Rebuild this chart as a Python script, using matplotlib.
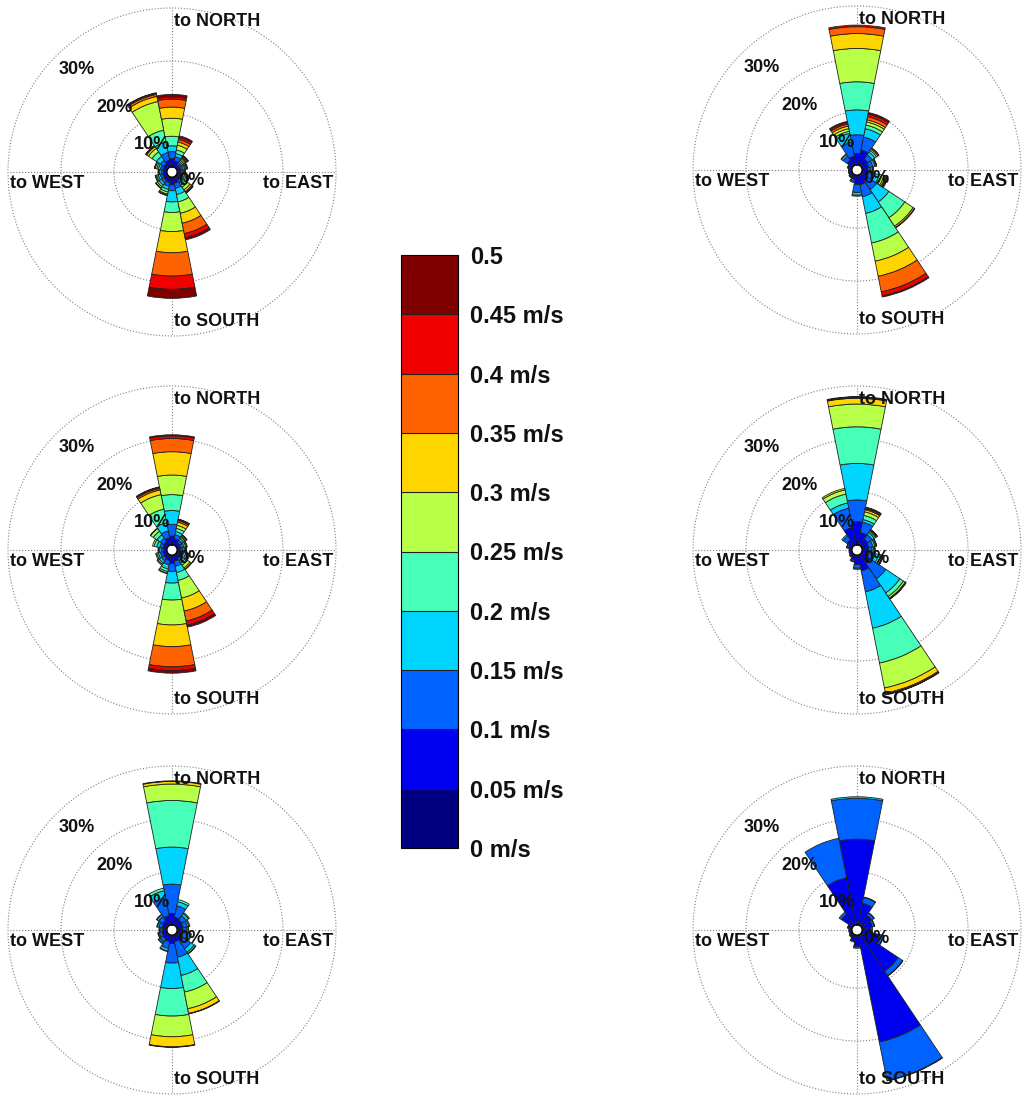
import numpy as np
import matplotlib
matplotlib.use('Agg')
import matplotlib.pyplot as plt
from matplotlib.colors import ListedColormap, BoundaryNorm
from matplotlib import cm

plt.rcParams['font.family'] = ['Liberation Sans', 'DejaVu Sans']

# 16 sector centres (deg, clockwise from north), 22.5 deg wide
DIRECTIONS = [0, 22.5, 45, 67.5, 90, 112.5, 135, 157.5,
              180, 202.5, 225, 247.5, 270, 292.5, 315, 337.5]
SPEED_EDGES = [0, 0.05, 0.1, 0.15, 0.2, 0.25, 0.3, 0.35, 0.4, 0.45, 0.5]
SPEED_LABELS = ['0 m/s', '0.05 m/s', '0.1 m/s', '0.15 m/s', '0.2 m/s', '0.25 m/s',
                '0.3 m/s', '0.35 m/s', '0.4 m/s', '0.45 m/s', '0.5']
BIN_COLORS = ['#000080', '#0000F1', '#0063FF', '#00D5FF', '#47FFB8',
              '#B8FF47', '#FFD500', '#FF6300', '#F10000', '#800000']
PCT_RINGS = [0, 10, 20, 30]
PCT_LABELS = ['0%', '10%', '20%', '30%']

# frequency (%) per direction, one column per speed bin (0-0.05 ... 0.45-0.5 m/s)
rose_a = [
    [0.4, 1.2, 1.3, 1.1, 1.8, 3.4, 2.1, 1.5, 0.4, 0.5],
    [0.4, 0.8, 0.8, 0.6, 0.7, 0.9, 0.6, 0.5, 0.4, 0.3],
    [0.3, 0.5, 0.4, 0.3, 0.3, 0.3, 0.2, 0.2, 0.2, 0.1],
    [0.3, 0.5, 0.4, 0.3, 0.2, 0.2, 0.1, 0.1, 0.0, 0.0],
    [0.3, 0.4, 0.3, 0.2, 0.2, 0.1, 0.1, 0.0, 0.0, 0.0],
    [0.3, 0.5, 0.4, 0.3, 0.3, 0.3, 0.2, 0.1, 0.05, 0.0],
    [0.3, 0.6, 0.6, 0.5, 0.5, 0.6, 0.4, 0.2, 0.1, 0.05],
    [0.4, 0.8, 1.0, 1.2, 1.4, 2.2, 1.9, 2.0, 0.8, 0.4],
    [0.6, 0.9, 1.1, 2.1, 2.0, 3.6, 4.0, 4.4, 2.5, 1.7],
    [0.4, 0.7, 0.7, 0.6, 0.5, 0.4, 0.2, 0.1, 0.0, 0.0],
    [0.3, 0.6, 0.6, 0.5, 0.4, 0.3, 0.1, 0.0, 0.0, 0.0],
    [0.3, 0.5, 0.5, 0.4, 0.3, 0.2, 0.1, 0.0, 0.0, 0.0],
    [0.3, 0.4, 0.4, 0.3, 0.2, 0.1, 0.0, 0.0, 0.0, 0.0],
    [0.3, 0.5, 0.5, 0.4, 0.3, 0.3, 0.1, 0.05, 0.0, 0.0],
    [0.3, 0.6, 0.8, 0.9, 1.0, 0.8, 0.4, 0.2, 0.05, 0.0],
    [0.3, 1.0, 1.5, 2.0, 2.3, 5.5, 1.0, 0.4, 0.2, 0.1],
]
rose_b = [
    [0.3, 1.9, 3.5, 4.7, 5.3, 6.3, 2.8, 1.3, 0.3, 0.0],
    [0.4, 2.5, 2.5, 1.6, 0.7, 0.6, 0.4, 0.6, 0.5, 0.3],
    [0.3, 1.2, 1.0, 0.6, 0.4, 0.3, 0.2, 0.05, 0.0, 0.0],
    [0.3, 1.0, 0.8, 0.4, 0.2, 0.1, 0.05, 0.0, 0.0, 0.0],
    [0.3, 0.8, 0.6, 0.3, 0.1, 0.05, 0.0, 0.0, 0.0, 0.0],
    [0.3, 1.0, 1.2, 0.8, 0.5, 0.4, 0.3, 0.2, 0.2, 0.1],
    [0.3, 1.2, 2.0, 2.8, 3.6, 1.9, 0.3, 0.1, 0.0, 0.0],
    [0.3, 1.6, 2.3, 3.2, 5.7, 3.5, 2.9, 3.0, 0.8, 0.2],
    [0.3, 1.5, 1.5, 0.5, 0.2, 0.0, 0.0, 0.0, 0.0, 0.0],
    [0.3, 0.6, 0.4, 0.2, 0.0, 0.0, 0.0, 0.0, 0.0, 0.0],
    [0.2, 0.4, 0.2, 0.1, 0.0, 0.0, 0.0, 0.0, 0.0, 0.0],
    [0.2, 0.3, 0.15, 0.05, 0.0, 0.0, 0.0, 0.0, 0.0, 0.0],
    [0.2, 0.25, 0.1, 0.05, 0.0, 0.0, 0.0, 0.0, 0.0, 0.0],
    [0.2, 0.4, 0.2, 0.1, 0.0, 0.0, 0.0, 0.0, 0.0, 0.0],
    [0.3, 1.0, 0.9, 0.4, 0.1, 0.0, 0.0, 0.0, 0.0, 0.0],
    [0.2, 1.5, 2.7, 1.7, 0.4, 0.5, 0.5, 0.4, 0.3, 0.2],
]
rose_c = [
    [0.5, 1.2, 2.2, 2.6, 3.0, 3.7, 4.4, 2.5, 0.5, 0.2],
    [0.4, 0.8, 0.8, 0.6, 0.6, 0.6, 0.6, 0.3, 0.2, 0.1],
    [0.3, 0.5, 0.5, 0.4, 0.3, 0.2, 0.2, 0.1, 0.0, 0.0],
    [0.3, 0.4, 0.4, 0.3, 0.3, 0.2, 0.1, 0.0, 0.0, 0.0],
    [0.3, 0.4, 0.4, 0.3, 0.2, 0.1, 0.1, 0.0, 0.0, 0.0],
    [0.3, 0.5, 0.5, 0.4, 0.3, 0.3, 0.2, 0.0, 0.0, 0.0],
    [0.3, 0.6, 0.6, 0.5, 0.5, 0.6, 0.3, 0.1, 0.0, 0.0],
    [0.4, 0.8, 1.0, 1.2, 1.5, 3.4, 2.5, 1.9, 0.8, 0.4],
    [0.5, 1.1, 1.5, 2.2, 3.2, 4.7, 4.1, 3.8, 0.7, 0.5],
    [0.4, 0.7, 0.8, 0.8, 0.5, 0.3, 0.1, 0.0, 0.0, 0.0],
    [0.3, 0.6, 0.6, 0.5, 0.3, 0.2, 0.0, 0.0, 0.0, 0.0],
    [0.3, 0.5, 0.5, 0.4, 0.3, 0.2, 0.0, 0.0, 0.0, 0.0],
    [0.3, 0.4, 0.4, 0.3, 0.2, 0.1, 0.0, 0.0, 0.0, 0.0],
    [0.3, 0.5, 0.6, 0.6, 0.5, 0.3, 0.0, 0.0, 0.0, 0.0],
    [0.3, 0.6, 0.8, 0.8, 0.8, 0.6, 0.1, 0.0, 0.0, 0.0],
    [0.4, 1.0, 1.3, 1.6, 2.6, 2.8, 0.9, 0.3, 0.2, 0.1],
]
rose_d = [
    [0.9, 3.5, 4.1, 6.9, 6.9, 4.3, 1.1, 0.1, 0.1, 0.1],
    [0.4, 2.0, 2.0, 0.5, 0.8, 0.7, 0.4, 0.2, 0.2, 0.1],
    [0.3, 1.2, 1.0, 0.5, 0.3, 0.2, 0.1, 0.05, 0.05, 0.0],
    [0.3, 1.0, 0.8, 0.4, 0.2, 0.1, 0.05, 0.0, 0.0, 0.0],
    [0.3, 0.9, 0.7, 0.3, 0.2, 0.1, 0.0, 0.0, 0.0, 0.0],
    [0.3, 1.1, 1.1, 0.7, 0.4, 0.3, 0.1, 0.05, 0.05, 0.0],
    [0.3, 1.8, 3.5, 3.2, 0.8, 0.4, 0.1, 0.05, 0.05, 0.0],
    [0.3, 2.8, 4.0, 7.0, 6.7, 4.8, 1.0, 0.2, 0.05, 0.05],
    [0.3, 1.5, 0.7, 0.2, 0.0, 0.0, 0.0, 0.0, 0.0, 0.0],
    [0.3, 0.7, 0.3, 0.1, 0.0, 0.0, 0.0, 0.0, 0.0, 0.0],
    [0.2, 0.4, 0.2, 0.0, 0.0, 0.0, 0.0, 0.0, 0.0, 0.0],
    [0.2, 0.3, 0.1, 0.0, 0.0, 0.0, 0.0, 0.0, 0.0, 0.0],
    [0.2, 0.25, 0.1, 0.0, 0.0, 0.0, 0.0, 0.0, 0.0, 0.0],
    [0.2, 0.5, 0.3, 0.1, 0.0, 0.0, 0.0, 0.0, 0.0, 0.0],
    [0.3, 1.0, 0.9, 0.3, 0.0, 0.0, 0.0, 0.0, 0.0, 0.0],
    [0.4, 3.0, 3.7, 1.0, 1.7, 0.8, 0.3, 0.0, 0.0, 0.0],
]
rose_e = [
    [0.3, 1.9, 5.5, 7.0, 8.8, 3.1, 0.5, 0.1, 0.0, 0.0],
    [0.3, 1.2, 2.2, 0.8, 0.4, 0.0, 0.0, 0.0, 0.0, 0.0],
    [0.3, 1.0, 1.0, 0.5, 0.2, 0.0, 0.0, 0.0, 0.0, 0.0],
    [0.3, 0.9, 0.8, 0.3, 0.2, 0.0, 0.0, 0.0, 0.0, 0.0],
    [0.3, 0.8, 0.7, 0.3, 0.1, 0.0, 0.0, 0.0, 0.0, 0.0],
    [0.3, 0.9, 0.9, 0.5, 0.2, 0.0, 0.0, 0.0, 0.0, 0.0],
    [0.3, 1.2, 1.8, 0.8, 0.3, 0.1, 0.0, 0.0, 0.0, 0.0],
    [0.3, 1.0, 3.0, 3.5, 3.2, 3.2, 0.9, 0.1, 0.0, 0.0],
    [0.4, 1.2, 3.7, 4.8, 5.2, 3.9, 1.9, 0.1, 0.0, 0.0],
    [0.3, 1.0, 1.3, 0.5, 0.1, 0.0, 0.0, 0.0, 0.0, 0.0],
    [0.3, 0.8, 0.7, 0.3, 0.1, 0.0, 0.0, 0.0, 0.0, 0.0],
    [0.3, 0.7, 0.5, 0.2, 0.1, 0.0, 0.0, 0.0, 0.0, 0.0],
    [0.3, 0.6, 0.4, 0.15, 0.05, 0.0, 0.0, 0.0, 0.0, 0.0],
    [0.3, 0.7, 0.6, 0.3, 0.1, 0.0, 0.0, 0.0, 0.0, 0.0],
    [0.3, 0.9, 0.9, 0.4, 0.1, 0.0, 0.0, 0.0, 0.0, 0.0],
    [0.3, 1.5, 3.5, 1.3, 0.5, 0.0, 0.0, 0.0, 0.0, 0.0],
]
rose_f = [
    [0.4, 15.8, 7.7, 0.3, 0.0, 0.0, 0.0, 0.0, 0.0, 0.0],
    [0.4, 3.8, 1.1, 0.1, 0.0, 0.0, 0.0, 0.0, 0.0, 0.0],
    [0.4, 2.0, 0.5, 0.1, 0.0, 0.0, 0.0, 0.0, 0.0, 0.0],
    [0.4, 1.6, 0.4, 0.05, 0.0, 0.0, 0.0, 0.0, 0.0, 0.0],
    [0.4, 1.3, 0.3, 0.0, 0.0, 0.0, 0.0, 0.0, 0.0, 0.0],
    [0.4, 3.0, 0.7, 0.1, 0.0, 0.0, 0.0, 0.0, 0.0, 0.0],
    [0.4, 8.0, 1.0, 0.1, 0.0, 0.0, 0.0, 0.0, 0.0, 0.0],
    [0.4, 20.2, 7.4, 0.1, 0.0, 0.0, 0.0, 0.0, 0.0, 0.0],
    [0.4, 1.8, 0.3, 0.0, 0.0, 0.0, 0.0, 0.0, 0.0, 0.0],
    [0.4, 0.8, 0.2, 0.0, 0.0, 0.0, 0.0, 0.0, 0.0, 0.0],
    [0.3, 0.4, 0.1, 0.0, 0.0, 0.0, 0.0, 0.0, 0.0, 0.0],
    [0.3, 0.3, 0.0, 0.0, 0.0, 0.0, 0.0, 0.0, 0.0, 0.0],
    [0.3, 0.3, 0.0, 0.0, 0.0, 0.0, 0.0, 0.0, 0.0, 0.0],
    [0.3, 0.5, 0.1, 0.0, 0.0, 0.0, 0.0, 0.0, 0.0, 0.0],
    [0.4, 2.2, 0.5, 0.0, 0.0, 0.0, 0.0, 0.0, 0.0, 0.0],
    [0.4, 8.7, 7.6, 0.0, 0.0, 0.0, 0.0, 0.0, 0.0, 0.0],
]

W, H = 1023, 1095
R_PX = 164          # pixel radius of the 30% ring
HOLE = 0.95         # empty centre, in % units
CENTERS = [(172, 172), (857, 170), (172, 550), (857, 550), (172, 930), (857, 930)]
ROSES = [rose_a, rose_b, rose_c, rose_d, rose_e, rose_f]

LABEL_FONT = dict(fontsize=13, fontweight='bold', color='#111111')


def draw_rose(fig, center, freqs):
    cx, cy = center
    ax = fig.add_axes([(cx - R_PX) / W, 1 - (cy + R_PX) / H, 2 * R_PX / W, 2 * R_PX / H],
                      projection='polar')
    ax.set_theta_zero_location('N')
    ax.set_theta_direction(-1)
    ax.set_ylim(0, 30)
    ax.set_rorigin(-HOLE)
    ax.grid(False)
    ax.set_xticks([])
    ax.set_yticks([])
    ax.spines['polar'].set_visible(False)
    ax.patch.set_alpha(0)

    t = np.linspace(0, 2 * np.pi, 400)
    for r in PCT_RINGS[1:]:
        ax.plot(t, np.full_like(t, r), color='0.5', lw=0.8, ls=':', zorder=1, clip_on=False)
    for a in [0, 90, 180, 270]:
        ax.plot([np.deg2rad(a)] * 2, [0, 30], color='0.5', lw=0.8, ls=':', zorder=1, clip_on=False)

    freqs = np.array(freqs)
    theta = np.deg2rad(DIRECTIONS)
    bottom = np.zeros(len(DIRECTIONS))
    for k, c in enumerate(BIN_COLORS):
        h = freqs[:, k]
        keep = h > 0
        ax.bar(theta[keep], h[keep], width=np.deg2rad(22.5), bottom=bottom[keep],
               color=c, edgecolor='#202020', linewidth=0.6, zorder=3, align='center')
        bottom += h

    ax.plot(t, np.zeros_like(t), color='k', lw=0.8, zorder=4)

    for r, lab in zip(PCT_RINGS, PCT_LABELS):
        off = (10, -4) if r == 0 else (3, -5)
        ax.annotate(lab, xy=(np.deg2rad(-45), r), xytext=off, textcoords='offset pixels',
                    ha='left', va='top', zorder=6, **LABEL_FONT)

    ax.text(0.506, 0.960, 'to NORTH', transform=ax.transAxes, ha='left', va='center', zorder=6, **LABEL_FONT)
    ax.text(0.506, 0.043, 'to SOUTH', transform=ax.transAxes, ha='left', va='center', zorder=6, **LABEL_FONT)
    ax.text(0.006, 0.466, 'to WEST', transform=ax.transAxes, ha='left', va='center', zorder=6, **LABEL_FONT)
    ax.text(0.991, 0.466, 'to EAST', transform=ax.transAxes, ha='right', va='center', zorder=6, **LABEL_FONT)
    return ax


fig = plt.figure(figsize=(W / 100, H / 100), dpi=100)
for center, freqs in zip(CENTERS, ROSES):
    draw_rose(fig, center, freqs)

cax = fig.add_axes([401 / W, 1 - 848 / H, 57 / W, 593 / H])
cmap = ListedColormap(BIN_COLORS)
norm = BoundaryNorm(SPEED_EDGES, cmap.N)
cb = fig.colorbar(cm.ScalarMappable(norm=norm, cmap=cmap), cax=cax,
                  ticks=SPEED_EDGES, drawedges=True)
cb.ax.set_yticklabels(SPEED_LABELS, fontsize=17, fontweight='bold', color='#111111')
cb.ax.tick_params(length=0, pad=9)
cb.outline.set_linewidth(0.8)
cb.dividers.set_linewidth(0.8)
cb.dividers.set_color('#202020')

fig.savefig('out.png', dpi=100)
